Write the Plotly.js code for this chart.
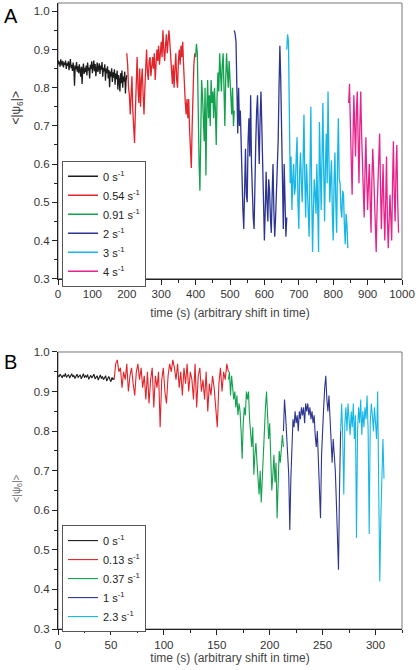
<!DOCTYPE html>
<html>
<head>
<meta charset="utf-8">
<script src="https://cdn.plot.ly/plotly-3.0.1.min.js"></script>
<style>html,body{margin:0;padding:0;background:#fff;}#chart{width:416px;height:670px;}</style>
</head>
<body>
<div id="chart"></div>
<script>
// ---------- Panel A data ----------
const legendA = ["0 s<sup>-1</sup>", "0.54 s<sup>-1</sup>", "0.91 s<sup>-1</sup>", "2 s<sup>-1</sup>", "3 s<sup>-1</sup>", "4 s<sup>-1</sup>"];
const startA = [0, 200, 400, 512.5, 665, 845];
const stepA = [2, 2.5, 2.5, 2.5, 2.5, 2.5];
const a0 = [0.872,0.861,0.868,0.855,0.874,0.862,0.858,0.870,0.853,0.866,0.860,
  0.871,0.849,0.864,0.857,0.869,0.846,0.862,0.875,0.851,0.860,
  0.844,0.866,0.853,0.805,0.858,0.848,0.867,0.842,0.856,0.838,
  0.861,0.847,0.829,0.855,0.810,0.850,0.863,0.836,0.852,0.841,
  0.858,0.832,0.866,0.845,0.853,0.824,0.860,0.849,0.869,0.838,
  0.855,0.871,0.843,0.862,0.830,0.858,0.866,0.841,0.854,0.864,
  0.836,0.858,0.847,0.867,0.829,0.852,0.843,0.861,0.818,0.850,
  0.838,0.856,0.824,0.846,0.801,0.842,0.829,0.851,0.815,0.840,
  0.826,0.848,0.808,0.837,0.822,0.845,0.795,0.833,0.818,0.790,
  0.838,0.812,0.845,0.800,0.829,0.816,0.842,0.785,0.820,0.833];
const a054 = [0.89,0.86,0.80,0.78,0.73,0.80,0.83,0.74,0.70,0.655,
  0.74,0.84,0.88,0.80,0.76,0.85,0.75,0.82,0.85,0.78,
  0.73,0.80,0.86,0.90,0.84,0.82,0.87,0.88,0.83,0.86,
  0.88,0.85,0.89,0.82,0.86,0.90,0.87,0.91,0.86,0.89,
  0.92,0.88,0.95,0.90,0.87,0.91,0.94,0.89,0.93,0.95,
  0.92,0.88,0.84,0.81,0.86,0.80,0.85,0.89,0.82,0.80,
  0.87,0.90,0.86,0.91,0.88,0.92,0.86,0.78,0.76,0.73,
  0.77,0.72,0.77,0.69,0.63,0.59,0.70,0.80,0.86,0.89,0.88];
const a091 = [0.88,0.915,0.89,0.70,0.61,0.53,0.72,0.82,0.78,0.70,
  0.66,0.80,0.57,0.74,0.82,0.72,0.78,0.70,0.82,0.76,
  0.79,0.72,0.80,0.74,0.65,0.78,0.84,0.79,0.89,0.84,
  0.79,0.86,0.89,0.80,0.70,0.82,0.89,0.84,0.80,0.87,
  0.83,0.76,0.73,0.80,0.70,0.74];
const a2 = [0.95,0.94,0.92,0.78,0.68,0.80,0.70,0.74,0.62,0.56,
  0.48,0.43,0.60,0.64,0.52,0.50,0.66,0.72,0.62,0.78,
  0.60,0.52,0.46,0.43,0.58,0.66,0.74,0.78,0.68,0.60,
  0.72,0.79,0.70,0.61,0.52,0.40,0.48,0.58,0.50,0.45,
  0.56,0.53,0.46,0.42,0.52,0.60,0.48,0.41,0.46,0.52,
  0.58,0.66,0.80,0.91,0.82,0.70,0.55,0.43,0.60,0.52,0.41,0.46];
const a3 = [0.90,0.94,0.92,0.72,0.55,0.62,0.48,0.56,0.60,0.52,
  0.54,0.62,0.67,0.50,0.43,0.58,0.63,0.55,0.50,0.61,
  0.73,0.56,0.46,0.60,0.55,0.48,0.41,0.58,0.75,0.52,
  0.37,0.48,0.56,0.52,0.47,0.60,0.44,0.37,0.71,0.58,
  0.48,0.62,0.76,0.58,0.45,0.60,0.68,0.55,0.79,0.62,
  0.50,0.56,0.61,0.47,0.40,0.55,0.63,0.50,0.42,0.60,
  0.72,0.56,0.55,0.48,0.46,0.53,0.52,0.44,0.39,0.47,0.44,0.38];
const a4 = [0.76,0.81,0.70,0.63,0.52,0.66,0.78,0.70,0.62,0.74,
  0.79,0.66,0.55,0.70,0.79,0.68,0.60,0.52,0.46,0.58,
  0.67,0.56,0.48,0.55,0.60,0.50,0.42,0.56,0.64,0.58,
  0.51,0.44,0.37,0.48,0.55,0.62,0.68,0.54,0.43,0.52,
  0.60,0.48,0.40,0.50,0.62,0.46,0.38,0.45,0.52,0.46,
  0.40,0.55,0.66,0.52,0.45,0.58,0.65,0.50,0.42];
const seriesA = [a0, a054, a091, a2, a3, a4];

// ---------- Panel B data ----------
const legendB = ["0 s<sup>-1</sup>", "0.13 s<sup>-1</sup>", "0.37 s<sup>-1</sup>", "1 s<sup>-1</sup>", "2.3 s<sup>-1</sup>"];
const startB = [0, 53, 161, 213, 267];
const stepB = [1, 1.5, 1, 1, 1];
const b0 = [0.941,0.937,0.944,0.939,0.935,0.942,0.938,0.946,0.936,0.940,
  0.943,0.934,0.939,0.945,0.937,0.941,0.933,0.940,0.944,0.936,
  0.939,0.942,0.932,0.938,0.945,0.935,0.940,0.937,0.943,0.931,
  0.938,0.941,0.934,0.939,0.944,0.932,0.937,0.940,0.929,0.936,
  0.942,0.933,0.938,0.930,0.935,0.940,0.927,0.934,0.938,0.931,
  0.925,0.936,0.930,0.934];
const b013 = [0.93,0.97,0.98,0.95,0.96,0.91,0.95,0.93,0.97,0.90,
  0.94,0.96,0.92,0.89,0.95,0.97,0.93,0.96,0.91,0.94,
  0.88,0.95,0.87,0.93,0.96,0.86,0.94,0.91,0.95,0.81,
  0.93,0.96,0.90,0.87,0.94,0.97,0.95,0.98,0.96,0.93,
  0.97,0.91,0.95,0.89,0.96,0.92,0.97,0.90,0.95,0.93,
  0.88,0.97,0.86,0.94,0.96,0.90,0.93,0.88,0.95,0.85,
  0.92,0.89,0.94,0.91,0.86,0.81,0.92,0.96,0.90,0.95,
  0.93,0.97,0.95];
const b037 = [0.93,0.95,0.89,0.94,0.91,0.88,0.90,0.86,0.89,0.84,
  0.87,0.85,0.80,0.73,0.82,0.86,0.84,0.90,0.88,0.90,
  0.83,0.79,0.76,0.81,0.69,0.74,0.77,0.72,0.68,0.64,
  0.70,0.62,0.68,0.75,0.80,0.86,0.90,0.85,0.78,0.82,
  0.72,0.65,0.69,0.74,0.67,0.72,0.58,0.66,0.75,0.72,
  0.77,0.79,0.76];
const b1 = [0.80,0.88,0.84,0.80,0.74,0.69,0.55,0.68,0.78,0.83,
  0.81,0.85,0.82,0.84,0.80,0.85,0.83,0.86,0.84,0.86,
  0.82,0.87,0.85,0.87,0.84,0.86,0.83,0.85,0.82,0.84,
  0.79,0.76,0.80,0.72,0.66,0.58,0.74,0.82,0.86,0.91,
  0.94,0.88,0.85,0.89,0.84,0.76,0.72,0.78,0.74,0.70,
  0.62,0.52,0.45,0.66,0.80];
const b23 = [0.80,0.87,0.78,0.64,0.82,0.86,0.80,0.87,0.83,0.79,
  0.85,0.81,0.87,0.78,0.84,0.53,0.80,0.86,0.82,0.88,
  0.79,0.85,0.81,0.86,0.83,0.89,0.80,0.54,0.82,0.87,
  0.84,0.80,0.86,0.82,0.78,0.90,0.72,0.42,0.58,0.68,
  0.78,0.68];
const seriesB = [b0, b013, b037, b1, b23];

const colorsA = ["#1c1c1c", "#e2242b", "#12a14e", "#2c3590", "#16b6e6", "#e5238b"];
const colorsB = ["#1c1c1c", "#e2242b", "#12a14e", "#2c3590", "#16b6e6"];

const traces = [];
seriesA.forEach((ys, i) => {
  traces.push({type: "scatter", mode: "lines", name: legendA[i], y: ys, x0: startA[i], dx: stepA[i],
    xaxis: "x", yaxis: "y", legend: "legend",
    line: {color: colorsA[i], width: 1.3}});
});
seriesB.forEach((ys, i) => {
  traces.push({type: "scatter", mode: "lines", name: legendB[i], y: ys, x0: startB[i], dx: stepB[i],
    xaxis: "x2", yaxis: "y2", legend: "legend2",
    line: {color: colorsB[i], width: 1.1}});
});

const FONT = "Liberation Sans, Arial, sans-serif";
const tickFont = {family: FONT, size: 11.5, color: "#333"};
const axisCommon = {
  showline: true, linecolor: "#222", linewidth: 1, showgrid: false, zeroline: false,
  ticks: "outside", ticklen: 5, tickwidth: 1, tickcolor: "#222", tickfont: tickFont,
  mirror: false
};
const legendCommon = {
  bgcolor: "#fff", bordercolor: "#555", borderwidth: 1,
  font: {family: FONT, size: 11, color: "#222"},
  xanchor: "left", yanchor: "top", itemwidth: 30, tracegroupgap: 0
};

const layout = {
  width: 416, height: 670,
  margin: {l: 58, r: 14, t: 3, b: 41},
  paper_bgcolor: "#fff", plot_bgcolor: "#fff",
  showlegend: true,
  xaxis: Object.assign({}, axisCommon, {domain: [0, 1], anchor: "y", range: [0, 1000], dtick: 100,
    minor: {dtick: 50, ticks: "outside", ticklen: 3, tickcolor: "#222"},
    title: {text: "time (s) (arbitrary shift in time)", standoff: 9,
      font: {family: FONT, size: 12, color: "#444"}}}),
  yaxis: Object.assign({}, axisCommon, {domain: [0.5596, 1], anchor: "x", range: [0.3, 1.0217], tickvals: [0.3,0.4,0.5,0.6,0.7,0.8,0.9,1.0],
    ticktext: ["0.3","0.4","0.5","0.6","0.7","0.8","0.9","1.0"],
    minor: {tickvals: [0.35,0.45,0.55,0.65,0.75,0.85,0.95], ticks: "outside", ticklen: 3, tickcolor: "#222"}}),
  xaxis2: Object.assign({}, axisCommon, {domain: [0, 1], anchor: "y2", range: [0, 325], dtick: 50,
    minor: {dtick: 25, ticks: "outside", ticklen: 3, tickcolor: "#222"},
    title: {text: "time (s) (arbitrary shift in time)", standoff: 3,
      font: {family: FONT, size: 12, color: "#444"}}}),
  yaxis2: Object.assign({}, axisCommon, {domain: [0, 0.4425], anchor: "x2", range: [0.3, 1.0], dtick: 0.1, tickformat: ".1f",
    minor: {dtick: 0.05, ticks: "outside", ticklen: 3, tickcolor: "#222"}}),
  legend: Object.assign({}, legendCommon, {x: 0.0116, y: 0.748}),
  legend2: Object.assign({}, legendCommon, {x: 0.0116, y: 0.166}),
  shapes: [
    {type: "rect", xref: "x domain", yref: "y domain", x0: 0, x1: 1, y0: 0, y1: 1, line: {color: "#777", width: 1}, layer: "below"},
    {type: "rect", xref: "x2 domain", yref: "y2 domain", x0: 0, x1: 1, y0: 0, y1: 1, line: {color: "#777", width: 1}, layer: "below"}
  ],
  annotations: [
    {text: "A", xref: "paper", yref: "paper", x: -0.163, y: 1.0, xanchor: "left", yanchor: "top", showarrow: false,
      font: {family: FONT, size: 20, color: "#000"}},
    {text: "B", xref: "paper", yref: "paper", x: -0.163, y: 0.447, xanchor: "left", yanchor: "top", showarrow: false,
      font: {family: FONT, size: 20, color: "#000"}},
    {text: "&lt;|ψ<sub>6</sub>|&gt;", xref: "paper", yref: "paper", x: -0.118, y: 0.832, textangle: -90, showarrow: false,
      xanchor: "center", yanchor: "middle", font: {family: FONT, size: 12, color: "#333"}},
    {text: "&lt;|ψ<sub>6</sub>|&gt;", xref: "paper", yref: "paper", x: -0.118, y: 0.225, textangle: -90, showarrow: false,
      xanchor: "center", yanchor: "middle", font: {family: FONT, size: 10, color: "#666"}}
  ]
};

Plotly.newPlot("chart", traces, layout, {staticPlot: true, displayModeBar: false});
</script>
</body>
</html>
